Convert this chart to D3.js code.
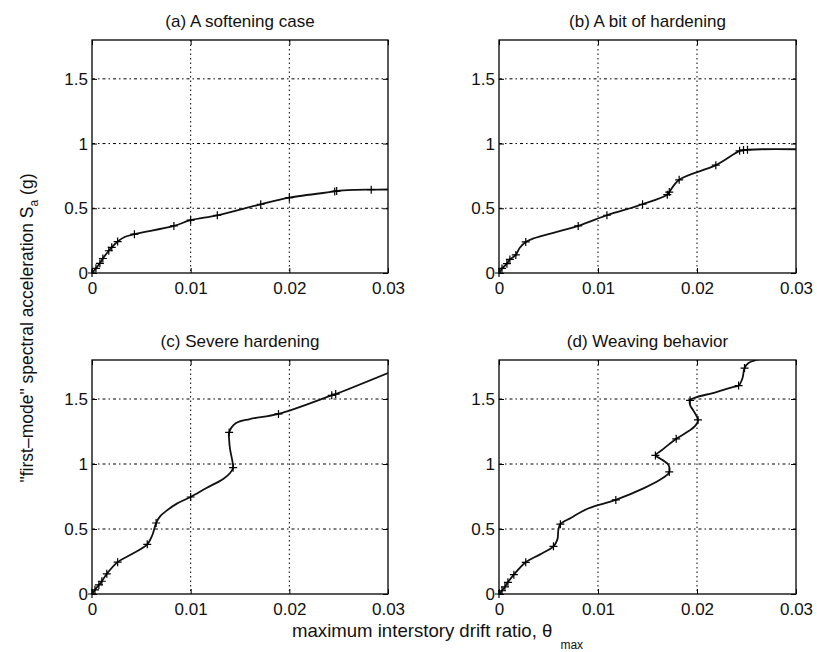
<!DOCTYPE html>
<html>
<head>
<meta charset="utf-8">
<script src="https://cdn.jsdelivr.net/npm/d3@7"></script>
<style>
  body { margin: 0; background: #fff; }
  text { font-family: "Liberation Sans", Arial, sans-serif; fill: #111; }
</style>
</head>
<body>
<div id="chart"></div>
<script>
const xTicks = [0, 0.01, 0.02, 0.03];
const yTicks = [0, 0.5, 1, 1.5];
const xGrid = [0.01, 0.02];
const yGrid = [0.5, 1, 1.5];
const titles = ['(a) A softening case', '(b) A bit of hardening', '(c) Severe hardening', '(d) Weaving behavior'];

// [max drift ratio, Sa (g), 1 = "+" marker drawn at this point]
const softening = [
  [0, 0, 1], [0.0004, 0.036, 1], [0.0008, 0.075, 1], [0.0011, 0.112, 1], [0.0017, 0.172, 1],
  [0.0020, 0.198, 1], [0.0026, 0.243, 1], [0.0033, 0.278, 0], [0.0043, 0.300, 1], [0.0083, 0.364, 1],
  [0.0100, 0.408, 1], [0.0127, 0.446, 1], [0.0171, 0.531, 1], [0.0200, 0.582, 1], [0.0246, 0.630, 1],
  [0.0248, 0.633, 1], [0.0265, 0.642, 0], [0.0283, 0.644, 1], [0.0300, 0.645, 0]
];
const someHardening = [
  [0, 0, 1], [0.0003, 0.035, 1], [0.0008, 0.072, 1], [0.0011, 0.105, 1], [0.0017, 0.140, 1],
  [0.0021, 0.195, 0], [0.0027, 0.240, 1], [0.0034, 0.265, 0], [0.0080, 0.364, 1], [0.0109, 0.446, 1],
  [0.0145, 0.531, 1], [0.0170, 0.605, 1], [0.0172, 0.625, 1], [0.0182, 0.720, 1], [0.0219, 0.833, 1],
  [0.0243, 0.944, 1], [0.0247, 0.950, 1], [0.0251, 0.952, 1], [0.0265, 0.956, 0], [0.0300, 0.956, 0]
];
const severeHardening = [
  [0, 0, 1], [0.0003, 0.032, 1], [0.0007, 0.070, 1], [0.0010, 0.098, 1], [0.0015, 0.155, 1],
  [0.0026, 0.245, 1], [0.0040, 0.305, 0], [0.0056, 0.382, 1], [0.0061, 0.450, 0], [0.0065, 0.546, 1],
  [0.0069, 0.597, 0], [0.0076, 0.643, 0], [0.0086, 0.695, 0], [0.0100, 0.746, 1], [0.0116, 0.815, 0],
  [0.0133, 0.885, 0], [0.0140, 0.931, 0], [0.0143, 0.972, 1], [0.0142, 1.033, 0], [0.0140, 1.110, 0],
  [0.0139, 1.187, 0], [0.0139, 1.243, 1], [0.0146, 1.315, 0], [0.0160, 1.346, 0], [0.0189, 1.385, 1],
  [0.0243, 1.528, 1], [0.0247, 1.538, 1], [0.0300, 1.700, 0]
];
const weaving = [
  [0, 0, 1], [0.0003, 0.025, 1], [0.0006, 0.055, 1], [0.0009, 0.090, 1], [0.0015, 0.149, 1],
  [0.0027, 0.244, 1], [0.0041, 0.303, 0], [0.0055, 0.367, 1], [0.0059, 0.420, 0], [0.0060, 0.495, 0],
  [0.0062, 0.537, 1], [0.0073, 0.587, 0], [0.0090, 0.658, 0], [0.0118, 0.724, 1], [0.0147, 0.816, 0],
  [0.0163, 0.880, 0], [0.0170, 0.918, 0], [0.0172, 0.939, 1], [0.0171, 0.995, 0], [0.0163, 1.041, 0],
  [0.0158, 1.066, 1], [0.0165, 1.110, 0], [0.0172, 1.153, 0], [0.0179, 1.194, 1], [0.0192, 1.255, 0],
  [0.0199, 1.301, 0], [0.0201, 1.339, 1], [0.0197, 1.403, 0], [0.0193, 1.454, 0], [0.0193, 1.490, 1],
  [0.0200, 1.515, 0], [0.0216, 1.546, 0], [0.0236, 1.592, 0], [0.0242, 1.603, 1], [0.0246, 1.662, 0],
  [0.0248, 1.738, 1], [0.0252, 1.777, 0], [0.0260, 1.800, 0], [0.0275, 1.830, 0]
];

const panels = [
  { title: titles[0], data: softening, left: 92, right: 388, top: 40, bottom: 273 },
  { title: titles[1], data: someHardening, left: 499, right: 796, top: 40, bottom: 273 },
  { title: titles[2], data: severeHardening, left: 92, right: 388, top: 360, bottom: 594 },
  { title: titles[3], data: weaving, left: 499, right: 796, top: 360, bottom: 594 }
];

const svg = d3.select('#chart').append('svg')
  .attr('width', 817)
  .attr('height', 652);

const fmt = d3.format('~g');

panels.forEach((p, i) => {
  const x = d3.scaleLinear().domain([0, 0.03]).range([p.left, p.right]);
  const y = d3.scaleLinear().domain([0, 1.8]).range([p.bottom, p.top]);
  const g = svg.append('g');

  // dotted grid
  g.selectAll('.vgrid').data(xGrid).enter().append('line')
    .attr('x1', d => x(d)).attr('x2', d => x(d))
    .attr('y1', p.top).attr('y2', p.bottom)
    .attr('stroke', '#000').attr('stroke-width', 1)
    .attr('stroke-dasharray', '1.5,3');
  g.selectAll('.hgrid').data(yGrid).enter().append('line')
    .attr('x1', p.left).attr('x2', p.right)
    .attr('y1', d => y(d)).attr('y2', d => y(d))
    .attr('stroke', '#000').attr('stroke-width', 1)
    .attr('stroke-dasharray', '3,3,1.5,3');

  // axes with inward ticks, MATLAB style
  const styleAxis = a => {
    a.select('.domain').remove();
    a.selectAll('line').attr('stroke', '#000');
    a.selectAll('text').style('font-size', '17px').attr('fill', '#111');
  };
  g.append('g').attr('transform', `translate(0,${p.bottom})`)
    .call(d3.axisBottom(x).tickValues(xTicks).tickSizeInner(-5).tickSizeOuter(0).tickPadding(9).tickFormat(fmt))
    .call(styleAxis);
  g.append('g').attr('transform', `translate(${p.left},0)`)
    .call(d3.axisLeft(y).tickValues(yTicks).tickSizeInner(-5).tickSizeOuter(0).tickPadding(4).tickFormat(fmt))
    .call(styleAxis);
  g.append('g').attr('transform', `translate(0,${p.top})`)
    .call(d3.axisTop(x).tickValues(xTicks).tickSizeInner(-5).tickSizeOuter(0).tickFormat(''))
    .call(styleAxis);
  g.append('g').attr('transform', `translate(${p.right},0)`)
    .call(d3.axisRight(y).tickValues(yTicks).tickSizeInner(-5).tickSizeOuter(0).tickFormat(''))
    .call(styleAxis);

  g.append('rect')
    .attr('x', p.left).attr('y', p.top)
    .attr('width', p.right - p.left).attr('height', p.bottom - p.top)
    .attr('fill', 'none').attr('stroke', '#000').attr('stroke-width', 1.3);

  // curve clipped to the plot box
  const clipId = 'clip' + i;
  svg.append('clipPath').attr('id', clipId).append('rect')
    .attr('x', p.left).attr('y', p.top)
    .attr('width', p.right - p.left).attr('height', p.bottom - p.top);

  const line = d3.line()
    .x(d => x(d[0]))
    .y(d => y(d[1]))
    .curve(d3.curveCatmullRom.alpha(0.5));

  g.append('path')
    .datum(p.data)
    .attr('clip-path', `url(#${clipId})`)
    .attr('d', line)
    .attr('fill', 'none')
    .attr('stroke', '#111')
    .attr('stroke-width', 1.8);

  g.selectAll('.mark')
    .data(p.data.filter(d => d[2] === 1))
    .enter().append('path')
    .attr('d', d => `M${x(d[0]) - 4},${y(d[1])}h8M${x(d[0])},${y(d[1]) - 4}v8`)
    .attr('stroke', '#000')
    .attr('stroke-width', 1.2);

  g.append('text')
    .attr('x', (p.left + p.right) / 2)
    .attr('y', p.top - 13)
    .attr('text-anchor', 'middle')
    .style('font-size', '17px')
    .text(p.title);
});

// shared axis labels
const yl = svg.append('text')
  .attr('transform', 'translate(33,328) rotate(-90)')
  .attr('text-anchor', 'middle')
  .style('font-size', '17.5px');
yl.append('tspan').text('"first\u2013mode" spectral acceleration S');
yl.append('tspan').attr('dy', 5).style('font-size', '12px').text('a');
yl.append('tspan').attr('dy', -5).text(' (g)');

const xl = svg.append('text')
  .attr('x', 292)
  .attr('y', 637)
  .style('font-size', '18.6px');
xl.append('tspan').text('maximum interstory drift ratio, \u03b8');
xl.append('tspan').attr('dx', 8).attr('dy', 12).style('font-size', '12px').text('max');
</script>
</body>
</html>
